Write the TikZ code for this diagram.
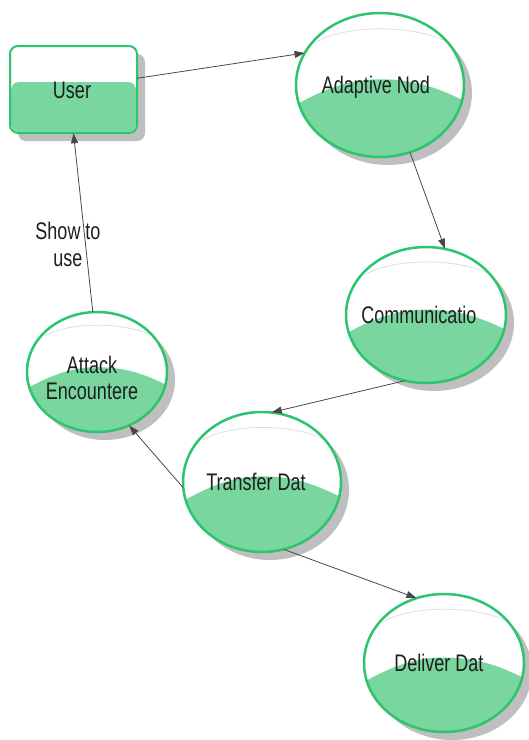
\documentclass[tikz,border=0pt]{standalone}
\usepackage{fontspec}
\usetikzlibrary{arrows.meta,shapes.geometric}
\newfontfamily\bubblefont[FakeStretch=0.75]{Liberation Sans}
\definecolor{rimgreen}{RGB}{45,196,110}
\definecolor{domegreen}{RGB}{120,214,158}
\definecolor{linkgray}{RGB}{72,72,72}
\definecolor{inkblack}{RGB}{30,30,30}
\definecolor{glossgray}{RGB}{222,222,222}
\tikzset{
  bubbletext/.style={font=\bubblefont\fontsize{24}{26}\selectfont, text=inkblack, align=center, inner sep=0pt},
  link/.style={draw=linkgray, line width=0.8pt, -{Triangle[length=10pt,width=7pt]}},
  dropshade/.style={fill=black!50, opacity=0.5},
  rim/.style={draw=rimgreen, line width=2.5pt},
}
% glossy bubble: name, centre x, centre y, x radius, y radius, caption
\newcommand\glossbubble[6]{%
  \begin{scope}[shift={(#2,#3)}]
    \fill[dropshade] (8,8) ellipse [x radius=#4, y radius=#5];
    \fill[white] (0,0) ellipse [x radius=#4, y radius=#5];
    \begin{scope}
      \clip (0,0) ellipse [x radius=#4, y radius=#5];
      \begin{scope}[xscale=#4, yscale=#5]
        \fill[domegreen] (-1.1,0.34) .. controls (-0.6,0.0) and (-0.3,-0.08) .. (0,-0.08)
          .. controls (0.35,-0.08) and (0.65,0.0) .. (1.1,0.28) -- (1.1,1.1) -- (-1.1,1.1) -- cycle;
        \draw[glossgray, line width=0.8pt] (-0.75,-0.6) .. controls (-0.4,-0.84) and (0.4,-0.84) .. (0.8,-0.6);
      \end{scope}
    \end{scope}
    \draw[rim] (0,0) ellipse [x radius=#4, y radius=#5];
  \end{scope}
  \node[ellipse, inner sep=0pt, minimum width={2*#4pt}, minimum height={2*#5pt}] (#1) at (#2,#3) {};
}
\begin{document}
\begin{tikzpicture}[x=1pt, y=-1pt]
  \useasboundingbox (0,0) rectangle (529,740);

  % user box
  \fill[dropshade, rounded corners=8pt] (18,54) rectangle (145,141);
  \fill[white, rounded corners=8pt] (10,46) rectangle (137,133);
  \fill[domegreen, rounded corners=8pt] (11,82) rectangle (136,132);
  \draw[rimgreen, line width=2pt, rounded corners=8pt] (10,46) rectangle (137,133);
  \node[inner sep=0pt, minimum width=127pt, minimum height=87pt] (user) at (73.5,89.5) {};
  \node[bubbletext] (user-text) at (72,90) {User};

  % process bubbles
  \glossbubble{adapt}{380}{85}{84}{72}{}
  \node[bubbletext] (adapt-text) at (376,87) {Adaptive Nod};
  \glossbubble{comm}{426}{315}{80}{68}{}
  \node[bubbletext] (comm-text) at (419,315) {Communicatio};
  \glossbubble{attack}{97}{372}{70}{60}{}
  \node[bubbletext] (attack-text) at (92,378) {Attack\\Encountere};
  \glossbubble{transfer}{262}{482}{79}{70}{}
  \node[bubbletext] (transfer-text) at (256,482) {Transfer Dat};
  \glossbubble{deliver}{444}{663}{80}{69}{}
  \node[bubbletext] (deliver-text) at (439,663) {Deliver Dat};

  % connectors
  \draw[link] (user.10) -- (adapt.157);
  \draw[link] (adapt.-66) -- (comm.74);
  \draw[link] (comm.-108) -- (transfer.82);
  \draw[link] (transfer.184) -- (attack.-59);
  \draw[link] (transfer.-72) -- (deliver.113);
  \draw[link] (attack.94) -- (user.south);
  \node[bubbletext, font=\bubblefont\fontsize{24}{27}\selectfont] (show-label) at (68,244) {Show to\\use};
\end{tikzpicture}
\end{document}
